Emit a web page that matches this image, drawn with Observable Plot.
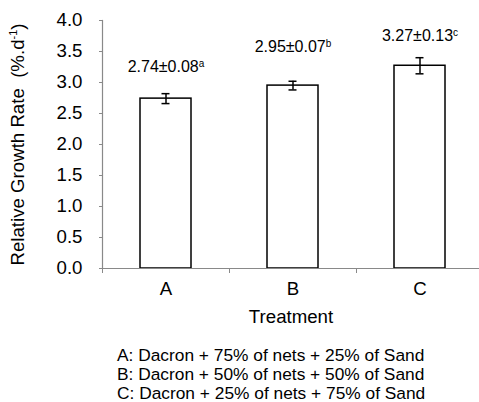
<!DOCTYPE html>
<html>
<head>
<meta charset="utf-8">
<script src="https://cdn.jsdelivr.net/npm/d3@7"></script>
<script src="https://cdn.jsdelivr.net/npm/@observablehq/plot@0.6"></script>
<style>
  html, body { margin: 0; padding: 0; background: #fff; overflow: hidden; }
  #chart svg { display: block; }
  #caption { font-family: "Liberation Sans", Arial, sans-serif; font-size: 17.33px; line-height: 19px; color: #000; margin: 14px 0 0 117px; white-space: nowrap; }
</style>
</head>
<body>
<div id="chart"></div>
<div id="caption"></div>
<script>
const categories = ["A", "B", "C"];
const means = [2.74, 2.95, 3.27];
const errors = [0.08, 0.07, 0.13];
const letters = ["a", "b", "c"];
const labelHeights = [3.25, 3.57, 3.75];
const yTicks = [0, 0.5, 1.0, 1.5, 2.0, 2.5, 3.0, 3.5, 4.0];
const yLabel = "Relative Growth Rate  (%.d";
const xLabel = "Treatment";
const captionLines = [
  "A: Dacron + 75% of nets + 25% of Sand",
  "B: Dacron + 50% of nets + 50% of Sand",
  "C: Dacron + 25% of nets + 75% of Sand"
];

const data = categories.map((c, i) => ({cat: c, mean: means[i], err: errors[i], letter: letters[i], labelY: labelHeights[i]}));
const gray = "#898989";

const chart = Plot.plot({
  width: 479,
  height: 332,
  marginLeft: 102,
  marginRight: 0,
  marginTop: 20,
  marginBottom: 64,
  style: {fontFamily: "'Liberation Sans', Arial, sans-serif", fontSize: "18.67px", color: "#000", background: "#fff"},
  x: {domain: categories, range: [102, 483], padding: 0},
  y: {domain: [0, 4], range: [268, 20]},
  marks: [
    Plot.barY(data, {x: "cat", y: "mean", fill: "white", stroke: "black", strokeWidth: 1.5, insetLeft: 38, insetRight: 38}),
    Plot.ruleX(data, {x: "cat", y1: d => d.mean - d.err, y2: d => d.mean + d.err, stroke: "black", strokeWidth: 1.5}),
    Plot.tickY(data, {x: "cat", y: d => d.mean - d.err, stroke: "black", strokeWidth: 1.5, insetLeft: 59.5, insetRight: 59.5}),
    Plot.tickY(data, {x: "cat", y: d => d.mean + d.err, stroke: "black", strokeWidth: 1.5, insetLeft: 59.5, insetRight: 59.5}),
    Plot.text(data, {x: "cat", y: "labelY", text: d => `${d.mean.toFixed(2)}±${d.err.toFixed(2)}`, fontSize: 16, fill: "black", className: "vals"}),
    Plot.ruleY([0], {stroke: gray, strokeWidth: 1.2}),
    Plot.frame({anchor: "left", stroke: gray, strokeWidth: 1.2}),
    Plot.axisY({ticks: yTicks, tickFormat: d3.format(".1f"), tickSize: 3, tickPadding: 17, stroke: gray, fontSize: 18.67, label: yLabel, labelAnchor: "center", labelArrow: "none", labelOffset: 92}),
    Plot.axisX({tickSize: 0, tickPadding: 13, fontSize: 18.67, label: xLabel, labelAnchor: "center", labelArrow: "none", labelOffset: 54}),
    Plot.axisX({text: null, tickSize: 5, dx: -63.5, stroke: gray, label: null})
  ]
});

const svg = d3.select(chart);
svg.selectAll("g.vals text").each(function(_, i) {
  d3.select(this).append("tspan").attr("font-size", 10).attr("dy", "-0.55em").text(letters[i]);
});
svg.selectAll('g[aria-label="y-axis label"] text').each(function() {
  const t = d3.select(this);
  t.append("tspan").attr("font-size", 11).attr("dy", "-0.6em").text("-1");
  t.append("tspan").attr("dy", "0.38em").text(")");
});

document.getElementById("chart").appendChild(chart);
const cap = document.getElementById("caption");
captionLines.forEach(l => { const d = document.createElement("div"); d.textContent = l; cap.appendChild(d); });
</script>
</body>
</html>
